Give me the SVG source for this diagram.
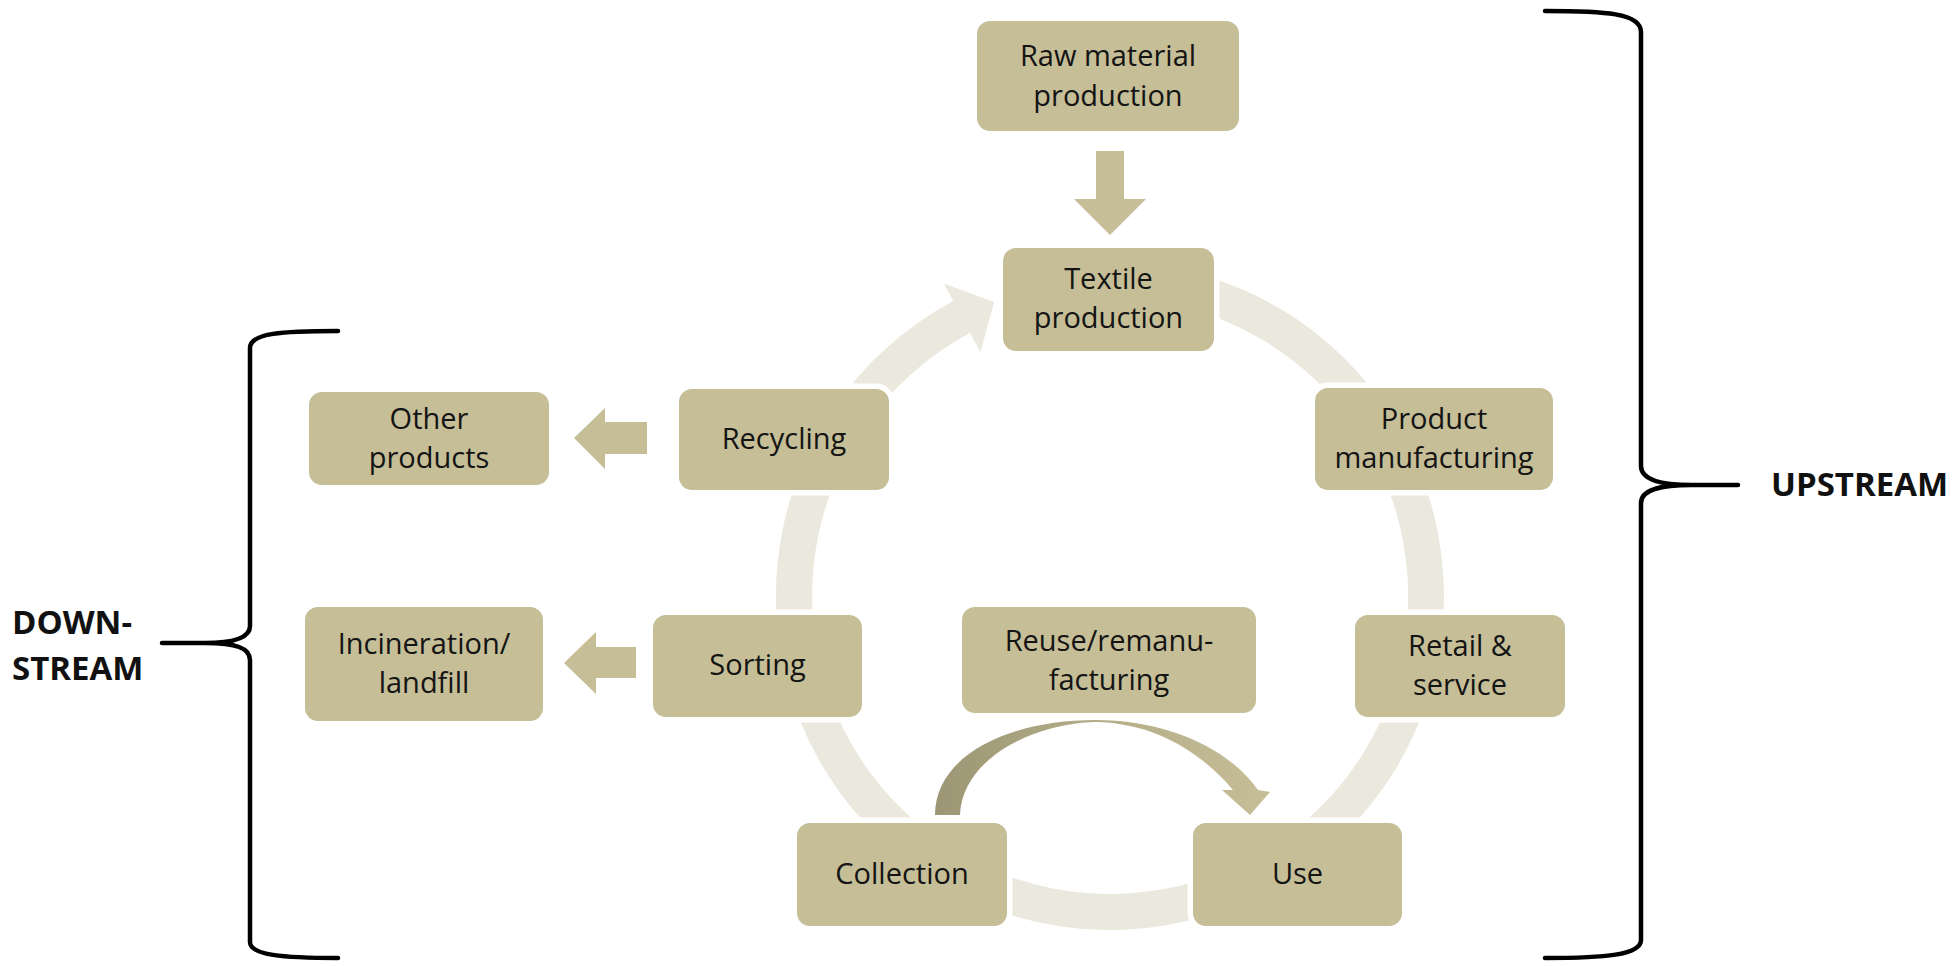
<svg xmlns="http://www.w3.org/2000/svg" width="1957" height="966" viewBox="0 0 1957 966">
<defs>
<style>
.box{fill:#C5BE97;stroke:#ffffff;stroke-width:11;paint-order:stroke}
.lbl{font-family:"Open Sans","Liberation Sans",sans-serif;font-size:29px;fill:#141414;text-anchor:middle}
.big{font-family:"Open Sans","Liberation Sans",sans-serif;font-size:33px;font-weight:bold;fill:#111111}
.brace{fill:none;stroke:#000000;stroke-width:4.5;stroke-linecap:round;stroke-linejoin:round}
.arr{fill:#C5BE97}
.ring{fill:#EBE9DE}
</style>
<linearGradient id="reuseGrad" x1="935" y1="0" x2="1270" y2="0" gradientUnits="userSpaceOnUse">
<stop offset="0" stop-color="#9C9674"/>
<stop offset="0.5" stop-color="#B4AD88"/>
<stop offset="1" stop-color="#C5BE97"/>
</linearGradient>
</defs>
<rect width="1957" height="966" fill="#ffffff"/>

<g id="connectors">
<path class="ring" d="M 1080.9,263.3 A 334 334 0 1 1 953.2,301.1 L 943.8,283.4 L 994.2,302.0 L 980.4,352.3 L 970.1,332.9 A 298 298 0 1 0 1084.0,299.1 Z"/>
<path fill="url(#reuseGrad)" d="M 935,815 C 935,755 1010,720 1095,720 C 1170,720 1230,750 1258,790 L 1270,792 L 1250,815 L 1222,790 L 1233,790 C 1205,757 1160,723 1095,722 C 1030,724 962,760 960,815 Z"/>
<polygon class="arr" points="1096,151 1124,151 1124,199 1146,199 1110,235 1074,199 1096,199"/>
<polygon class="arr" points="647,422 647,454 605,454 605,469 574,438 605,408 605,422"/>
<polygon class="arr" points="636,647 636,678 596,678 596,694 564,663 596,632 596,647"/>
</g>

<g id="node-raw">
<rect class="box" x="977" y="21" width="262" height="110" rx="13"/>
<text class="lbl" x="1108" y="66">Raw material</text>
<text class="lbl" x="1108" y="106">production</text>
</g>
<g id="node-textile">
<rect class="box" x="1003" y="248" width="211" height="103" rx="13"/>
<text class="lbl" x="1108.5" y="289">Textile</text>
<text class="lbl" x="1108.5" y="328">production</text>
</g>
<g id="node-product">
<rect class="box" x="1315" y="388" width="238" height="102" rx="13"/>
<text class="lbl" x="1434" y="429">Product</text>
<text class="lbl" x="1434" y="468">manufacturing</text>
</g>
<g id="node-retail">
<rect class="box" x="1355" y="615" width="210" height="102" rx="13"/>
<text class="lbl" x="1460" y="656">Retail &amp;</text>
<text class="lbl" x="1460" y="695">service</text>
</g>
<g id="node-use">
<rect class="box" x="1193" y="823" width="209" height="103" rx="13"/>
<text class="lbl" x="1297.5" y="884">Use</text>
</g>
<g id="node-collection">
<rect class="box" x="797" y="823" width="210" height="103" rx="13"/>
<text class="lbl" x="902" y="884">Collection</text>
</g>
<g id="node-reuse">
<rect class="box" x="962" y="607" width="294" height="106" rx="13"/>
<text class="lbl" x="1109" y="651">Reuse/remanu-</text>
<text class="lbl" x="1109" y="690">facturing</text>
</g>
<g id="node-sorting">
<rect class="box" x="653" y="615" width="209" height="102" rx="13"/>
<text class="lbl" x="757.5" y="675">Sorting</text>
</g>
<g id="node-recycling">
<rect class="box" x="679" y="389" width="210" height="101" rx="13"/>
<text class="lbl" x="784" y="449">Recycling</text>
</g>
<g id="node-other">
<rect class="box" x="309" y="392" width="240" height="93" rx="13"/>
<text class="lbl" x="429" y="429">Other</text>
<text class="lbl" x="429" y="468">products</text>
</g>
<g id="node-incineration">
<rect class="box" x="305" y="607" width="238" height="114" rx="13"/>
<text class="lbl" x="424" y="654">Incineration/</text>
<text class="lbl" x="424" y="693">landfill</text>
</g>

<g id="brace-upstream">
<path class="brace" d="M 1545,11 C 1605,11 1641,13 1641,32 L 1641,466 C 1641,478 1656,485 1692,485 L 1738,485 M 1692,485 C 1656,485 1641,491 1641,503 L 1641,940 C 1641,955 1605,958 1545,958"/>
<text class="big" x="1771" y="496">UPSTREAM</text>
</g>
<g id="brace-downstream">
<path class="brace" d="M 338,331 C 282,331 250,333 250,348 L 250,626 C 250,637 236,643 205,643 L 162,643 M 205,643 C 236,643 250,648 250,660 L 250,942 C 250,955 282,958 338,958"/>
<text class="big" x="12" y="634">DOWN-</text>
<text class="big" x="12" y="680">STREAM</text>
</g>
</svg>
